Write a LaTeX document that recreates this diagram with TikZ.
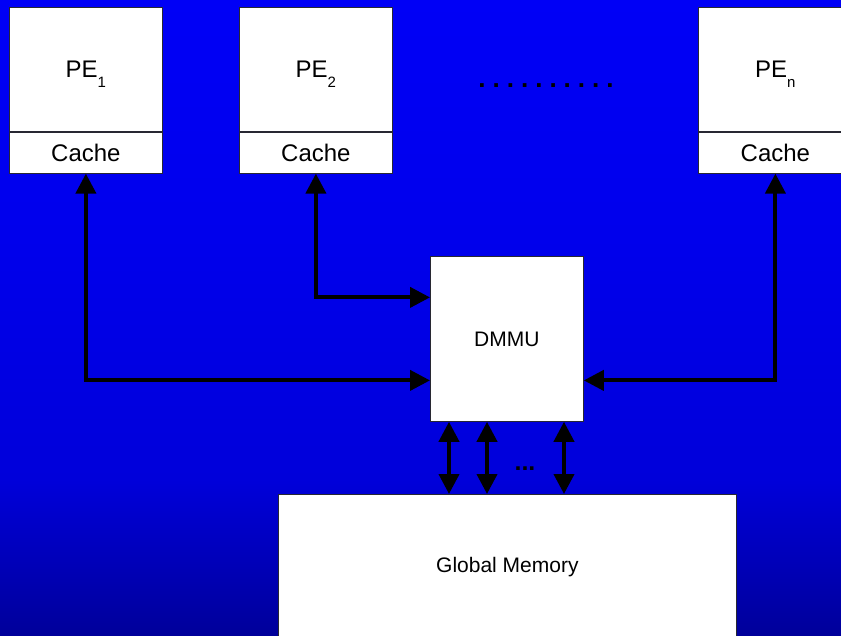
\documentclass[tikz,border=0pt]{standalone}
\usepackage{fontspec}
\setmainfont{Liberation Sans}
\usetikzlibrary{arrows.meta}
\definecolor{bgbot}{RGB}{0,0,154}
\definecolor{bglow}{RGB}{0,0,218}
\definecolor{bgmid}{RGB}{0,0,236}
\definecolor{bgtop}{RGB}{0,0,246}
\definecolor{boxline}{RGB}{40,40,50}
\pgfdeclareverticalshading{bgshade}{100bp}{color(0bp)=(bgbot); color(25bp)=(bgbot); color(37.3bp)=(bglow); color(56.4bp)=(bgmid); color(75bp)=(bgtop); color(100bp)=(bgtop)}
\newcommand\subidx[1]{\smash{\raisebox{-10pt}{\fontsize{15}{15}\selectfont #1}}}
\newcommand\dotfont{\fontsize{26}{26}\selectfont\bfseries\frenchspacing\spaceskip 7pt\relax\xspaceskip 7pt\relax}
\tikzset{
  box/.style={draw=boxline, line width=0.8pt, fill=white, inner sep=0pt, anchor=north west},
  bigfont/.style={font=\fontsize{24}{24}\selectfont},
  smallfont/.style={font=\fontsize{21}{21}\selectfont},
  arr/.style={line width=4pt, {Triangle[width=20pt,length=20pt]}-{Triangle[width=20pt,length=20pt]}},
}
\begin{document}
\begin{tikzpicture}[x=1pt,y=-1pt]
\useasboundingbox (0,0) rectangle (841,636);
\shade[shading=bgshade] (0,0) rectangle (841,636);
\clip (0,0) rectangle (841,636);
% processing elements
\node[box, bigfont, minimum width=153pt, minimum height=124pt] (pe1) at (9,7) {PE\subidx{1}};
\node[box, bigfont, minimum width=153pt, minimum height=41pt] (c1) at (pe1.south west) {Cache};
\node[box, bigfont, minimum width=153pt, minimum height=124pt] (pe2) at (239,7) {PE\subidx{2}};
\node[box, bigfont, minimum width=153pt, minimum height=41pt] (c2) at (pe2.south west) {Cache};
\node[box, bigfont, minimum width=154pt, minimum height=124pt] (pen) at (698,7) {PE\subidx{n}};
\node[box, bigfont, minimum width=154pt, minimum height=41pt] (cn) at (pen.south west) {Cache};
\node[font=\dotfont] (dots) at (546,86) {. . . . . . . . . .};
% DMMU and memory
\node[box, smallfont, minimum width=153pt, minimum height=165pt] (dmmu) at (430,256) {DMMU};
\node[box, smallfont, minimum width=458pt, minimum height=146pt] (gm) at (278,494) {Global Memory};
% connectors
\draw[arr] (c1.south) |- ([yshift=-41.5pt]dmmu.west);
\draw[arr] (c2.south) |- ([yshift=41.5pt]dmmu.west);
\draw[arr] (cn.south) |- ([yshift=-41.5pt]dmmu.east);
\draw[arr] ([xshift=19pt]dmmu.south west) -- ([xshift=19pt]dmmu.south west |- gm.north);
\draw[arr] ([xshift=57pt]dmmu.south west) -- ([xshift=57pt]dmmu.south west |- gm.north);
\draw[arr] ([xshift=134pt]dmmu.south west) -- ([xshift=134pt]dmmu.south west |- gm.north);
\node[font=\fontsize{25}{25}\selectfont\bfseries] (bdots) at (525,469) {...};
\end{tikzpicture}
\end{document}
